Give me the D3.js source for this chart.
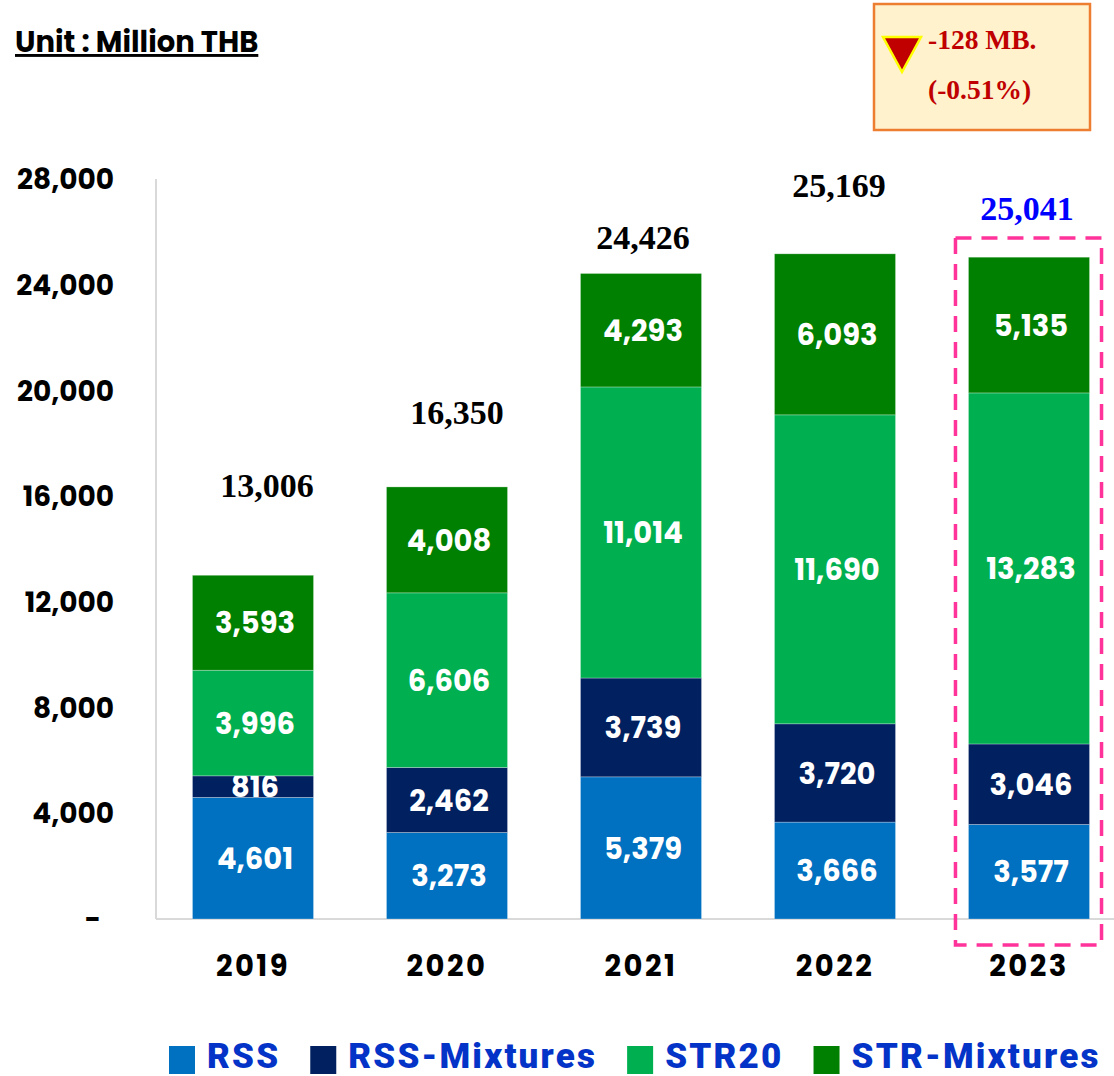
<!DOCTYPE html>
<html>
<head>
<meta charset="utf-8">
<script src="https://cdn.jsdelivr.net/npm/d3@7"></script>
<style>
  html, body { margin: 0; padding: 0; background: #fff; }
</style>
</head>
<body>
<div id="chart"></div>
<script>
const width = 1114, height = 1076

// data
const years = ["2019", "2020", "2021", "2022", "2023"]
const seriesNames = ["RSS", "RSS-Mixtures", "STR20", "STR-Mixtures"]
const rss = [4601, 3273, 5379, 3666, 3577]
const rssMixtures = [816, 2462, 3739, 3720, 3046]
const str20 = [3996, 6606, 11014, 11690, 13283]
const strMixtures = [3593, 4008, 4293, 6093, 5135]
const totals = [13006, 16350, 24426, 25169, 25041]
const yTicks = [0, 4000, 8000, 12000, 16000, 20000, 24000, 28000]
const changeText = ["-128 MB.", "(-0.51%)"]

const colors = ["#0070C0", "#002060", "#00B050", "#008000"]
// hand placed total labels: lift above bar and sideways nudge (px)
const totalLift = [78, 63, 24, 57, 37]
const totalNudge = [14, 10, 2, 4, -2]

const rows = years.map((y, i) => ({
    year: y,
    "RSS": rss[i],
    "RSS-Mixtures": rssMixtures[i],
    "STR20": str20[i],
    "STR-Mixtures": strMixtures[i]
}))
const stacked = d3.stack().keys(seriesNames)(rows)

const xScale = d3.scaleBand().domain(years).range([156, 1126])
    .paddingInner(0.376).paddingOuter(0.188)
const yScale = d3.scaleLinear().domain([0, 28000]).range([919, 179])

const sans = "Poppins, 'Open Sans', sans-serif"
const serif = "'Liberation Serif', 'Times New Roman', serif"

const svg = d3.select("#chart").append("svg")
    .attr("xmlns", "http://www.w3.org/2000/svg")
    .attr("width", width)
    .attr("height", height)

// unit title
svg.append("text")
    .attr("x", 15).attr("y", 52)
    .style("font-family", sans).style("font-weight", 700)
    .style("font-size", "29px").style("text-decoration", "underline")
    .attr("fill", "#000")
    .text("Unit : Million THB")

// axes lines
svg.append("line")
    .attr("x1", 156).attr("x2", 156)
    .attr("y1", yScale(28000)).attr("y2", yScale(0))
    .attr("stroke", "#d9d9d9").attr("stroke-width", 2)
svg.append("line")
    .attr("x1", 156).attr("x2", width)
    .attr("y1", yScale(0)).attr("y2", yScale(0))
    .attr("stroke", "#d9d9d9").attr("stroke-width", 2)

// y tick labels
svg.append("g").selectAll("text")
    .data(yTicks)
    .enter().append("text")
    .attr("x", d => d === 0 ? 101 : 114)
    .attr("y", d => yScale(d))
    .attr("dy", "0.36em")
    .attr("text-anchor", "end")
    .style("font-family", sans).style("font-weight", 700)
    .style("font-size", "28px")
    .attr("fill", "#000")
    .text(d => d === 0 ? "-" : d3.format(",")(d))

// bars
const layers = svg.append("g").selectAll("g")
    .data(stacked)
    .enter().append("g")
    .attr("fill", (d, i) => colors[i])

layers.selectAll("rect")
    .data(d => d)
    .enter().append("rect")
    .attr("x", d => xScale(d.data.year))
    .attr("width", xScale.bandwidth())
    .attr("y", d => yScale(d[1]))
    .attr("height", d => yScale(d[0]) - yScale(d[1]))
    .attr("stroke", "rgba(255,255,255,0.35)")
    .attr("stroke-width", 0.8)

// segment labels
layers.selectAll("text")
    .data(d => d)
    .enter().append("text")
    .attr("x", d => xScale(d.data.year) + xScale.bandwidth() / 2 + 2)
    .attr("y", d => (yScale(d[0]) + yScale(d[1])) / 2)
    .attr("dy", "0.37em")
    .attr("text-anchor", "middle")
    .style("font-family", sans).style("font-weight", 700)
    .style("font-size", "29px")
    .attr("fill", "#fff")
    .text(d => d3.format(",")(d[1] - d[0]))

// total labels
svg.append("g").selectAll("text")
    .data(totals)
    .enter().append("text")
    .attr("x", (d, i) => xScale(years[i]) + xScale.bandwidth() / 2 + totalNudge[i])
    .attr("y", (d, i) => yScale(d) - totalLift[i])
    .attr("text-anchor", "middle")
    .style("font-family", serif).style("font-weight", 700)
    .style("font-size", "34px")
    .attr("fill", (d, i) => i === years.length - 1 ? "#0000FF" : "#000")
    .text(d => d3.format(",")(d))

// year labels
svg.append("g").selectAll("text")
    .data(years)
    .enter().append("text")
    .attr("x", d => xScale(d) + xScale.bandwidth() / 2)
    .attr("y", 976)
    .attr("text-anchor", "middle")
    .style("font-family", sans).style("font-weight", 700)
    .style("font-size", "29px").style("letter-spacing", "2.5px")
    .attr("fill", "#000")
    .text(d => d)

// highlight around last year
const lastX = xScale(years[years.length - 1])
svg.append("rect")
    .attr("x", lastX - 13).attr("y", 238)
    .attr("width", xScale.bandwidth() + 25).attr("height", 707)
    .attr("fill", "none")
    .attr("stroke", "#FF3399").attr("stroke-width", 3.5)
    .attr("stroke-dasharray", "16,10")

// change box
svg.append("rect")
    .attr("x", 874).attr("y", 4)
    .attr("width", 216).attr("height", 126)
    .attr("fill", "#FFF2CC")
    .attr("stroke", "#ED7D31").attr("stroke-width", 2.5)
svg.append("path")
    .attr("d", "M883,37 L921,37 L902,72 Z")
    .attr("fill", "#C00000")
    .attr("stroke", "#FFFF00").attr("stroke-width", 2.5)
    .attr("stroke-linejoin", "miter")
svg.append("g").selectAll("text")
    .data(changeText)
    .enter().append("text")
    .attr("x", 928)
    .attr("y", (d, i) => 49 + i * 50)
    .style("font-family", serif).style("font-weight", 700)
    .style("font-size", "27.5px")
    .attr("fill", "#C00000")
    .text(d => d)

// legend
const legend = svg.append("g")
    .style("font-family", "Roboto, sans-serif").style("font-weight", 900)
    .style("font-size", "35px").style("letter-spacing", "2.2px")
let lx = 169
seriesNames.forEach((name, i) => {
    legend.append("rect")
        .attr("x", lx).attr("y", 1046)
        .attr("width", 26).attr("height", 28)
        .attr("fill", colors[i])
    const t = legend.append("text")
        .attr("x", lx + 38).attr("y", 1068)
        .attr("fill", "#0433C8")
        .text(name)
    lx += 38 + t.node().getComputedTextLength() + 30
})
</script>
</body>
</html>
